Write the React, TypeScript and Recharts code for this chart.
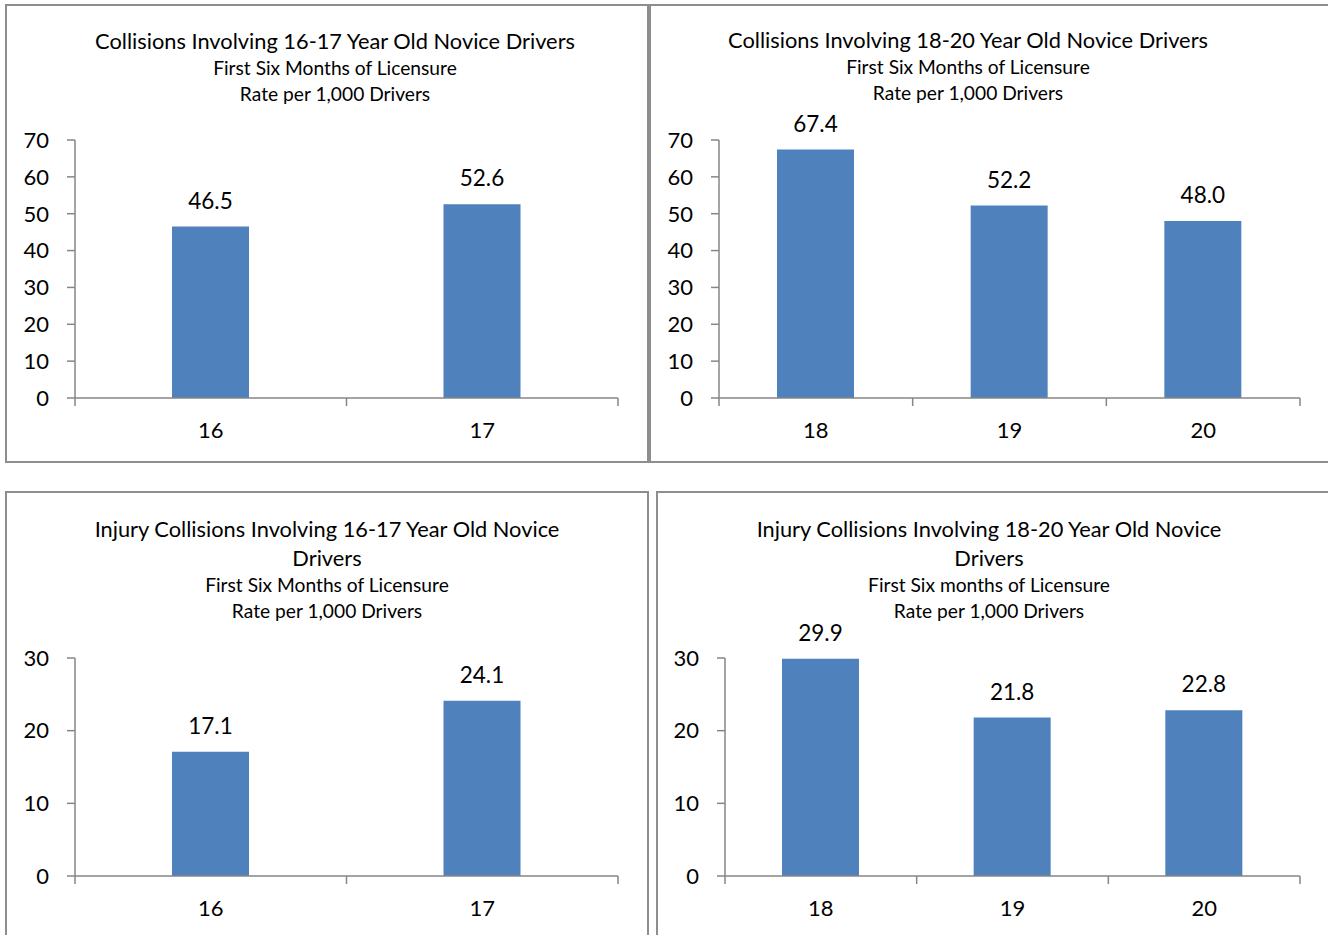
import { BarChart, Bar, XAxis, YAxis, LabelList } from "recharts";

const ages1617 = ["16", "17"];
const ages1820 = ["18", "19", "20"];
const collisions1617 = [46.5, 52.6];
const collisions1820 = [67.4, 52.2, 48.0];
const injury1617 = [17.1, 24.1];
const injury1820 = [29.9, 21.8, 22.8];
const ticksCollisions = [0, 10, 20, 30, 40, 50, 60, 70];
const ticksInjury = [0, 10, 20, 30];

const FONT = "Lato, 'Noto Sans', sans-serif";
const AXIS = "#868686";
const BAR = "#4f81bd";
const TICK_SIZE = 22;

const toRows = (cats: string[], vals: number[]) => cats.map((age, i) => ({ age, rate: vals[i] }));

// excel-style ticks: between categories, label in the middle
const BoundaryTick = (props: any) => {
  const { x, y, payload, index, visibleTicksCount, fallbackHalf } = props;
  const half = payload.offset || fallbackHalf;
  const last = index === visibleTicksCount - 1;
  return (
    <g>
      <line x1={x - half} x2={x - half} y1={y - 8} y2={y} stroke={AXIS} strokeWidth={1.5} />
      {last && <line x1={x + half} x2={x + half} y1={y - 8} y2={y} stroke={AXIS} strokeWidth={1.5} />}
      <text x={x} y={y + 32} textAnchor="middle" fill="#000" fontSize={TICK_SIZE} fontFamily={FONT}>
        {payload.value}
      </text>
    </g>
  );
};

interface PanelChartProps {
  left: number;
  top: number;
  width: number;
  height: number;
  margin: { top: number; right: number; bottom: number; left: number };
  yWidth: number;
  cats: string[];
  vals: number[];
  ticks: number[];
}

function PanelChart({ left, top, width, height, margin, yWidth, cats, vals, ticks }: PanelChartProps) {
  const data = toRows(cats, vals);
  const plotW = width - margin.left - margin.right - yWidth;
  return (
    <div style={{ position: "absolute", left, top }}>
      <BarChart width={width} height={height} data={data} margin={margin}>
        <XAxis
          dataKey="age"
          height={50}
          tickLine={false}
          tickSize={8}
          tickMargin={0}
          stroke={AXIS}
          strokeWidth={1.5}
          interval={0}
          tick={<BoundaryTick fallbackHalf={plotW / cats.length / 2} />}
        />
        <YAxis
          width={yWidth}
          domain={[0, ticks[ticks.length - 1]]}
          ticks={ticks}
          interval={0}
          tickSize={8}
          tickMargin={18}
          stroke={AXIS}
          strokeWidth={1.5}
          tick={{ fill: "#000", fontSize: TICK_SIZE, fontFamily: FONT }}
        />
        <Bar dataKey="rate" fill={BAR} barSize={77} isAnimationActive={false}>
          <LabelList
            dataKey="rate"
            position="top"
            offset={18}
            formatter={(v: any) => Number(v).toFixed(1)}
            style={{ fill: "#000", fontSize: 22.5, fontFamily: FONT }}
          />
        </Bar>
      </BarChart>
    </div>
  );
}

function Titles({ cx, top, main, subs }: { cx: number; top: number; main: string[]; subs: string[] }) {
  return (
    <div
      style={{
        position: "absolute",
        left: cx - 320,
        top,
        width: 640,
        textAlign: "center",
        fontFamily: FONT,
        color: "#000",
      }}
    >
      {main.map((t) => (
        <div key={t} style={{ fontSize: 21.8, lineHeight: "29px" }}>{t}</div>
      ))}
      {subs.map((t) => (
        <div key={t} style={{ fontSize: 19.2, lineHeight: "26px" }}>{t}</div>
      ))}
    </div>
  );
}

const panelBorder = "2px solid #8e8e8e";

export default function App() {
  return (
    <div
      style={{
        position: "absolute",
        left: 0,
        top: 0,
        width: 1328,
        height: 935,
        overflow: "hidden",
        background: "#fff",
      }}
    >
      <div style={{ position: "absolute", left: 5, top: 4, width: 640, height: 455, border: panelBorder }} />
      <div style={{ position: "absolute", left: 649, top: 4, width: 720, height: 455, border: panelBorder }} />
      <div style={{ position: "absolute", left: 5, top: 491, width: 640, height: 500, border: panelBorder }} />
      <div style={{ position: "absolute", left: 656, top: 491, width: 720, height: 500, border: panelBorder }} />

      <Titles
        cx={335}
        top={26}
        main={["Collisions Involving 16-17 Year Old Novice Drivers"]}
        subs={["First Six Months of Licensure", "Rate per 1,000 Drivers"]}
      />
      <Titles
        cx={968}
        top={25}
        main={["Collisions Involving 18-20 Year Old Novice Drivers"]}
        subs={["First Six Months of Licensure", "Rate per 1,000 Drivers"]}
      />
      <Titles
        cx={327}
        top={514}
        main={["Injury Collisions Involving 16-17 Year Old Novice", "Drivers"]}
        subs={["First Six Months of Licensure", "Rate per 1,000 Drivers"]}
      />
      <Titles
        cx={989}
        top={514}
        main={["Injury Collisions Involving 18-20 Year Old Novice", "Drivers"]}
        subs={["First Six months of Licensure", "Rate per 1,000 Drivers"]}
      />

      <PanelChart
        left={0}
        top={120}
        width={640}
        height={330}
        margin={{ top: 20, right: 22, bottom: 2, left: 0 }}
        yWidth={75}
        cats={ages1617}
        vals={collisions1617}
        ticks={ticksCollisions}
      />
      <PanelChart
        left={645}
        top={100}
        width={680}
        height={350}
        margin={{ top: 40, right: 25, bottom: 2, left: 0 }}
        yWidth={74}
        cats={ages1820}
        vals={collisions1820}
        ticks={ticksCollisions}
      />
      <PanelChart
        left={0}
        top={630}
        width={640}
        height={300}
        margin={{ top: 28, right: 22, bottom: 4, left: 0 }}
        yWidth={75}
        cats={ages1617}
        vals={injury1617}
        ticks={ticksInjury}
      />
      <PanelChart
        left={655}
        top={620}
        width={670}
        height={310}
        margin={{ top: 38, right: 25, bottom: 4, left: 0 }}
        yWidth={70}
        cats={ages1820}
        vals={injury1820}
        ticks={ticksInjury}
      />
    </div>
  );
}
